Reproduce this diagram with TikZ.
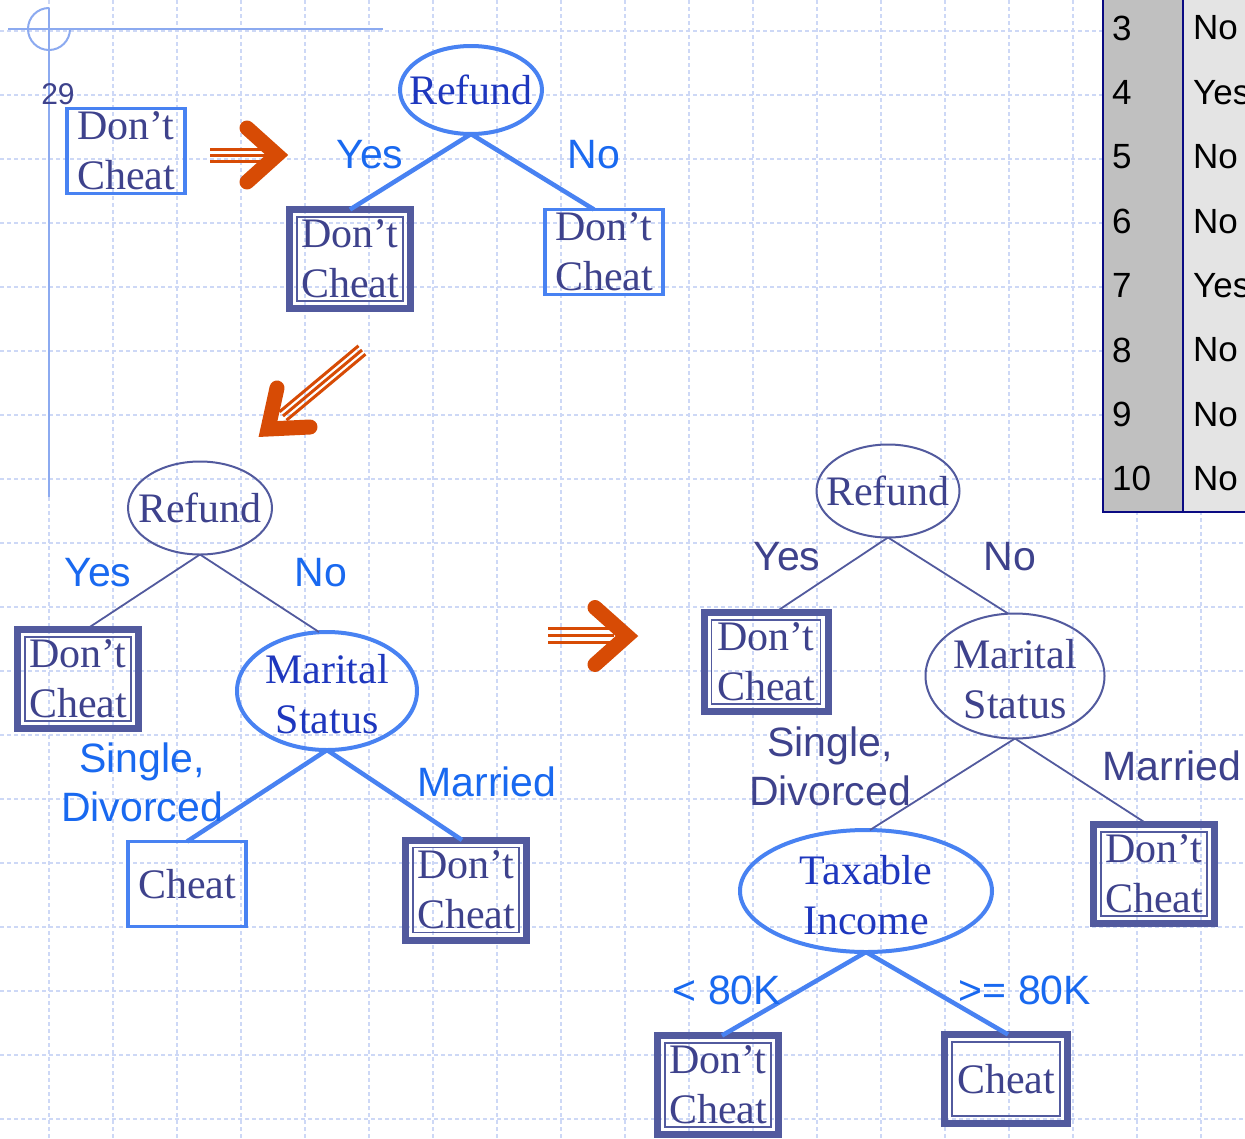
\documentclass[tikz,border=0pt]{standalone}
\usepackage{fontspec}
\setmainfont{Liberation Serif}
\setsansfont{Liberation Sans}
\usetikzlibrary{shapes.geometric}

\definecolor{gridc}{RGB}{205,216,246}
\definecolor{decoc}{RGB}{140,170,240}
\definecolor{bblue}{RGB}{72,130,242}
\definecolor{lbtext}{RGB}{25,105,240}
\definecolor{deeptext}{RGB}{30,55,190}
\definecolor{slate}{RGB}{82,90,158}
\definecolor{slatetext}{RGB}{62,66,140}
\definecolor{orangec}{RGB}{215,75,5}
\definecolor{tgray}{RGB}{192,192,192}
\definecolor{tlight}{RGB}{228,228,228}
\definecolor{navyc}{RGB}{10,10,130}

\tikzset{
  gridline/.style={draw=gridc, line width=1.2pt, dash pattern=on 4pt off 3pt},
  deco/.style={draw=decoc, line width=2pt},
  serifbig/.style={font=\fontsize{42}{50}\selectfont, align=center},
  leafsingle/.style={serifbig, text=slatetext, draw=bblue, line width=3.5pt,
    minimum width=118pt, minimum height=85pt, inner sep=0pt, outer sep=0pt},
  leafdouble/.style={serifbig, text=slatetext, draw=slate, line width=7pt,
    minimum width=121pt, minimum height=99pt, inner sep=0pt, outer sep=0pt},
  testthick/.style={ellipse, draw=bblue, line width=4pt, inner sep=0pt, outer sep=0pt},
  testthin/.style={ellipse, draw=slate, line width=2pt, inner sep=0pt, outer sep=0pt},
  testtext/.style={serifbig, text=deeptext, inner sep=0pt},
  testtextdark/.style={serifbig, text=slatetext, inner sep=0pt},
  edgethick/.style={draw=bblue, line width=4.5pt},
  edgethin/.style={draw=slate, line width=1.8pt},
  lbl/.style={font=\sffamily\fontsize{41}{49}\selectfont, text=lbtext, align=center, inner sep=0pt},
  lbldark/.style={lbl, text=slatetext},
  shaft/.style={draw=orangec, line width=3pt},
  chevron/.style={draw=orangec, line width=15pt, line cap=round, line join=miter},
  tabtext/.style={font=\sffamily\fontsize{35}{40}\selectfont, text=black, inner sep=0pt, anchor=west},
  innerframe/.style={draw=slate, line width=1.8pt}
}

\begin{document}
\begin{tikzpicture}[x=1pt,y=-1pt]
\useasboundingbox (0,0) rectangle (1245,1138);
\clip (0,0) rectangle (1245,1138);
\fill[white] (0,0) rectangle (1245,1138);

% background grid
\foreach \i in {0,...,18} \draw[gridline] (49+64*\i,0) -- (49+64*\i,1138);
\foreach \j in {0,...,17} \draw[gridline] (0,31+64*\j) -- (1245,31+64*\j);

% corner mark and page number
\draw[deco] (8,29) -- (383,29);
\draw[deco] (49,8) -- (49,497);
\draw[deco] (70,29) arc[start angle=0, end angle=270, radius=21];
\node[font=\sffamily\fontsize{30}{34}\selectfont, text=slatetext, inner sep=0pt] (pagenum) at (58,94) {29};

% data table
\fill[tgray] (1103,-5) rectangle (1183,512);
\fill[tlight] (1183,-5) rectangle (1250,512);
\draw[navyc, line width=2pt] (1103,-5) -- (1103,512) -- (1250,512);
\draw[navyc, line width=2pt] (1183,-5) -- (1183,512);
\foreach \k/\v [count=\i from 0] in {3/No,4/Yes,5/No,6/No,7/Yes,8/No,9/No,10/No} {
  \node[tabtext] (idx\k) at (1112, 28+64.4*\i) {\k};
  \node[tabtext] (val\k) at (1193, 28+64.4*\i) {\v};
}

% single leaf
\node[leafsingle] (s0) at (126,151) {Don’t\\Cheat};

% first split on Refund
\node[testthick, minimum width=142pt, minimum height=88pt] (t1) at (471,90) {};
\node[testtext] (t1txt) at (t1.center) {Refund};
\node[leafdouble] (t1y) at (350,259) {Don’t\\Cheat};
\node[leafsingle] (t1n) at (604,252) {Don’t\\Cheat};
\draw[edgethick] (t1.south) -- (t1y.north);
\draw[edgethick] (t1.south) -- ([xshift=-10pt]t1n.north);
\node[lbl] (t1ylab) at (370,155) {Yes};
\node[lbl] (t1nlab) at (594,155) {No};

% second tree: Refund, then Marital Status
\node[testthin, minimum width=144pt, minimum height=93pt] (l1) at (200,508) {};
\node[testtextdark] (l1txt) at (l1.center) {Refund};
\node[leafdouble] (l1y) at (78,679) {Don’t\\Cheat};
\node[testthick, minimum width=180pt, minimum height=118pt] (l2) at (327,691) {};
\node[testtext] (l2txt) at ([yshift=-3pt]l2.center) {Marital\\Status};
\node[leafsingle] (l2a) at (187,884) {Cheat};
\node[leafdouble, minimum height=100pt] (l2b) at (466,890) {Don’t\\Cheat};
\draw[edgethin] (l1.south) -- ([xshift=8pt]l1y.north);
\draw[edgethin] (l1.south) -- ([xshift=-8pt]l2.north);
\draw[edgethick] (l2.south) -- (l2a.north);
\draw[edgethick] (l2.south) -- ([xshift=-4pt]l2b.north);
\node[lbl] (l1ylab) at (98,573) {Yes};
\node[lbl] (l1nlab) at (321,573) {No};
\node[lbl] (l2alab) at (142,782) {Single,\\Divorced};
\node[lbl] (l2blab) at (487,782) {Married};

% third tree: Refund, Marital Status, Taxable Income
\node[testthin, minimum width=143pt, minimum height=93pt] (r1) at (888,491) {};
\node[testtextdark] (r1txt) at (r1.center) {Refund};
\node[leafdouble, minimum width=124pt] (r1y) at (766,662) {Don’t\\Cheat};
\node[testthin, minimum width=179pt, minimum height=125pt] (r2) at (1015,676) {};
\node[testtextdark] (r2txt) at ([yshift=-3pt]r2.center) {Marital\\Status};
\node[testthick, minimum width=252pt, minimum height=122pt] (r3) at (866,891) {};
\node[testtext] (r3txt) at ([yshift=-4pt]r3.center) {Taxable\\Income};
\node[leafdouble] (r2b) at (1154,874) {Don’t\\Cheat};
\node[leafdouble] (r3a) at (718,1085) {Don’t\\Cheat};
\node[leafdouble, minimum width=123pt, minimum height=89pt] (r3b) at (1006,1079) {Cheat};
\draw[edgethin] (r1.south) -- ([xshift=9pt]r1y.north);
\draw[edgethin] (r1.south) -- ([xshift=-7pt]r2.north);
\draw[edgethin] (r2.south) -- ([xshift=4pt]r3.north);
\draw[edgethin] (r2.south) -- ([xshift=-6pt]r2b.north);
\draw[edgethick] (r3.south) -- ([xshift=4pt]r3a.north);
\draw[edgethick] (r3.south) -- ([xshift=2pt]r3b.north);
\node[lbldark] (r1ylab) at (787,557) {Yes};
\node[lbldark] (r1nlab) at (1010,557) {No};
\node[lbldark] (r2alab) at (830,766) {Single,\\Divorced};
\node[lbldark] (r2blab) at (1172,766) {Married};
\node[lbl] (r3alab) at (727,990) {< 80K};
\node[lbl] (r3blab) at (1025,990) {>= 80K};

% inner rules of the framed leaves
\foreach \n in {t1y,l1y,l2b,r1y,r2b,r3a,r3b}
  \draw[innerframe] ([xshift=7.5pt,yshift=-7.5pt]\n.north west) rectangle ([xshift=-7.5pt,yshift=7.5pt]\n.south east);

% orange step arrows
\foreach \dy in {-6,0,6} \draw[shaft] (210,155+\dy) -- (266,155+\dy);
\draw[chevron] (247,128) -- (277,155) -- (247,182);

\draw[shaft] (358.5,345.8) -- (279.5,411.8);
\draw[shaft] (362,350) -- (283,416);
\draw[shaft] (365.5,354.2) -- (286.5,420.2);
\draw[chevron] (277,388) -- (268,429) -- (310,427);

\foreach \dy in {-7,0,7} \draw[shaft] (548,635+\dy) -- (614,635+\dy);
\draw[chevron] (595,607.5) -- (627,636) -- (595,664.5);
\end{tikzpicture}
\end{document}
